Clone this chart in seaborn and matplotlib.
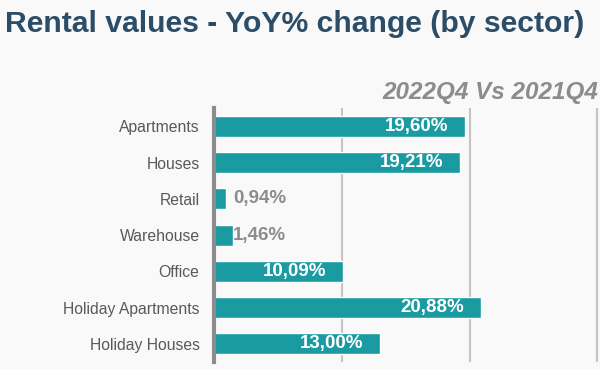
import pandas as pd
from matplotlib import pyplot as plt
import seaborn as sns

# Rental values - YoY% change by sector, 2022Q4 vs 2021Q4
sectors = ["Apartments", "Houses", "Retail", "Warehouse", "Office",
           "Holiday Apartments", "Holiday Houses"]
changes = [19.60, 19.21, 0.94, 1.46, 10.09, 20.88, 13.00]
labels = ["19,60%", "19,21%", "0,94%", "1,46%", "10,09%", "20,88%", "13,00%"]

df = pd.DataFrame({"sector": sectors, "change": changes})

sns.set_style("white")
plt.rcParams["font.family"] = ["Liberation Sans", "DejaVu Sans"]

bg = "#f9f9f9"
teal = "#1a9ba1"
grey = "#8c8c8c"

fig = plt.figure(figsize=(6, 3.69), dpi=100, facecolor=bg)
ax = fig.add_axes([0.357, 0.019, 0.643, 0.688], facecolor=bg)

sns.barplot(data=df, y="sector", x="change", color=teal, saturation=1,
            width=0.58, orient="h", ax=ax)

ax.set_xlim(0, 30.2)
ax.set_xticks([10, 20, 30])
ax.xaxis.grid(True, color="#c4c4c4", linewidth=1.5)
ax.set_axisbelow(True)
ax.tick_params(axis="x", bottom=False, labelbottom=False)
ax.tick_params(axis="y", left=False, labelsize=11.3, labelcolor="#595959", pad=7)
ax.set_xlabel("")
ax.set_ylabel("")
for side in ["top", "right", "bottom"]:
    ax.spines[side].set_visible(False)
ax.spines["left"].set_color(grey)
ax.spines["left"].set_linewidth(3)

for i, (v, lab) in enumerate(zip(changes, labels)):
    if v > 5:
        ax.text(v - 1.3, i, lab, ha="right", va="center", color="white",
                fontsize=13.5, fontweight="bold")
    else:
        # small bars: label sits just outside the bar
        ax.text(1.5, i, lab, ha="left", va="center", color=grey,
                fontsize=13.5, fontweight="bold")

fig.text(0.008, 0.935, "Rental values - YoY% change (by sector)", ha="left",
         va="center", fontsize=21.7, fontweight="bold", color="#2b4d68")
fig.text(0.997, 0.75, "2022Q4 Vs 2021Q4", ha="right", va="center",
         fontsize=17.5, fontweight="bold", style="italic", color=grey)

fig.savefig("out.png", dpi=100, facecolor=bg)
